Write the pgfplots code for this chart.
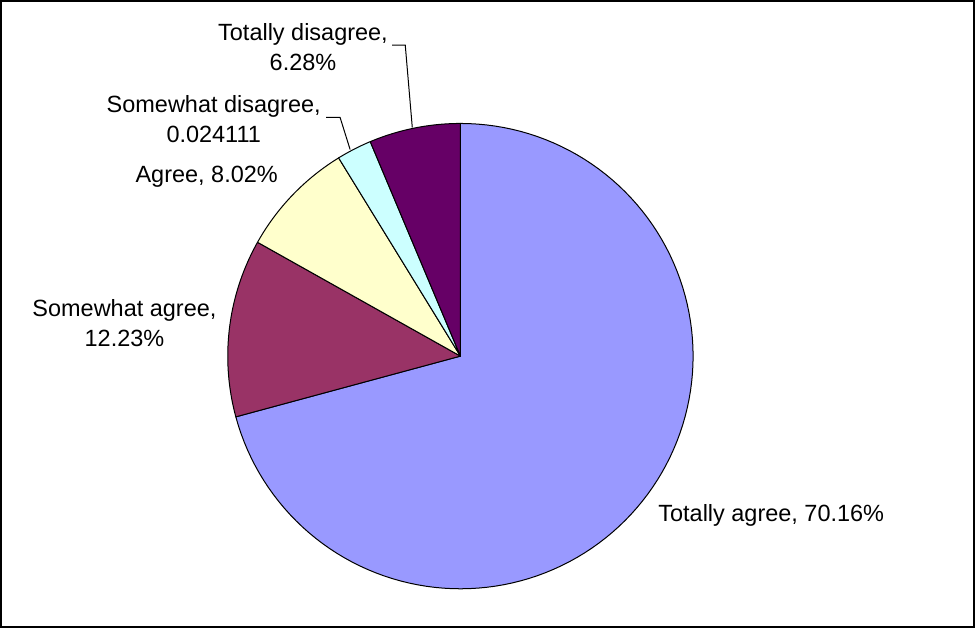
\documentclass[border=0pt]{standalone}
\usepackage{pgfplots}
\usepackage{pgfplotstable}
\pgfplotsset{compat=1.18}
\usepackage{fontspec}
\setmainfont{Liberation Sans}
\definecolor{ctagree}{HTML}{9999FF}
\definecolor{csagree}{HTML}{993366}
\definecolor{cagree}{HTML}{FFFFCC}
\definecolor{csdis}{HTML}{CCFFFF}
\definecolor{ctdis}{HTML}{660066}
\pgfplotstableread[col sep=comma]{
label,value
Totally agree,70.16
Somewhat agree,12.23
Agree,8.02
Somewhat disagree,2.4111
Totally disagree,6.28
}\piedata
\pgfplotstablegetelem{0}{value}\of\piedata\let\vA\pgfplotsretval
\pgfplotstablegetelem{1}{value}\of\piedata\let\vB\pgfplotsretval
\pgfplotstablegetelem{2}{value}\of\piedata\let\vC\pgfplotsretval
\pgfplotstablegetelem{3}{value}\of\piedata\let\vD\pgfplotsretval
\pgfplotstablegetelem{4}{value}\of\piedata\let\vE\pgfplotsretval
\pgfmathsetmacro\vS{\vA+\vB+\vC+\vD+\vE}
\pgfmathsetmacro\aA{90}
\pgfmathsetmacro\aB{\aA-360*(\vA/\vS)}
\pgfmathsetmacro\aC{\aB-360*(\vB/\vS)}
\pgfmathsetmacro\aD{\aC-360*(\vC/\vS)}
\pgfmathsetmacro\aE{\aD-360*(\vD/\vS)}
\pgfmathsetmacro\aF{\aE-360*(\vE/\vS)}
\begin{document}
\begin{tikzpicture}[font=\fontsize{11.7}{15}\selectfont]
\begin{axis}[
  scale only axis, width=487.5pt, height=314pt,
  xmin=0, xmax=975, ymin=0, ymax=628,
  hide axis, clip=false,
  every axis plot/.append style={draw=black, line width=0.5pt, line join=round},
]
\draw[line width=1.1pt] (axis cs:2,2) rectangle (axis cs:972,626);
\addplot[fill=ctagree, domain=\aB:\aA, samples=120] ({460+232*cos(x)},{272+232*sin(x)}) -- (axis cs:460,272) -- cycle;
\addplot[fill=csagree, domain=\aC:\aB, samples=40] ({460+232*cos(x)},{272+232*sin(x)}) -- (axis cs:460,272) -- cycle;
\addplot[fill=cagree, domain=\aD:\aC, samples=30] ({460+232*cos(x)},{272+232*sin(x)}) -- (axis cs:460,272) -- cycle;
\addplot[fill=csdis, domain=\aE:\aD, samples=12] ({460+232*cos(x)},{272+232*sin(x)}) -- (axis cs:460,272) -- cycle;
\addplot[fill=ctdis, domain=\aF:\aE, samples=30] ({460+232*cos(x)},{272+232*sin(x)}) -- (axis cs:460,272) -- cycle;
% leader lines
\draw[line width=0.5pt] (axis cs:392,582) -- (axis cs:405,582) -- (axis cs:412,500);
\draw[line width=0.5pt] (axis cs:326,510) -- (axis cs:340,510) -- (axis cs:350,478);
% labels
\node[align=center, inner sep=0pt] at (axis cs:303,580) {Totally disagree,\\6.28\%};
\node[align=center, inner sep=0pt] at (axis cs:214,508) {Somewhat disagree,\\0.024111};
\node[align=center, inner sep=0pt] at (axis cs:207,451) {Agree, 8.02\%};
\node[align=center, inner sep=0pt] at (axis cs:125,305) {Somewhat agree,\\12.23\%};
\node[anchor=west, inner sep=0pt] at (axis cs:657,113) {Totally agree, 70.16\%};
\end{axis}
\end{tikzpicture}
\end{document}
